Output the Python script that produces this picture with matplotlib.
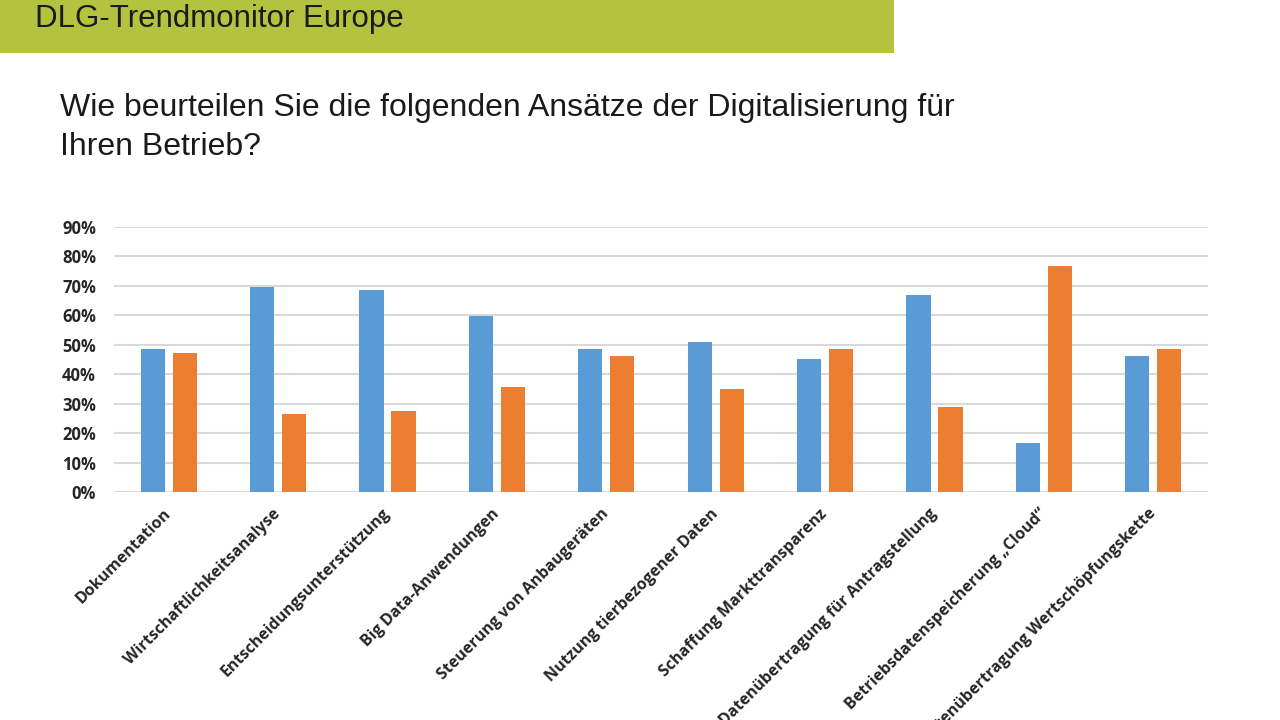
import matplotlib
matplotlib.use("Agg")
import matplotlib.pyplot as plt
import numpy as np
from matplotlib.ticker import FuncFormatter, MultipleLocator
from matplotlib.patches import Rectangle

categories = [
    "Dokumentation",
    "Wirtschaftlichkeitsanalyse",
    "Entscheidungsunterstützung",
    "Big Data-Anwendungen",
    "Steuerung von Anbaugeräten",
    "Nutzung tierbezogener Daten",
    "Schaffung Markttransparenz",
    "Datenübertragung für Antragstellung",
    "Betriebsdatenspeicherung „Cloud“",
    "Datenübertragung Wertschöpfungskette",
]
series_blue = [48.4, 69.6, 68.5, 59.9, 48.4, 50.9, 45.3, 67.0, 16.6, 46.1]
series_orange = [47.2, 26.6, 27.5, 35.7, 46.1, 35.0, 48.4, 28.9, 76.8, 48.4]

header_text = "DLG-Trendmonitor Europe"
question_line1 = "Wie beurteilen Sie die folgenden Ansätze der Digitalisierung für"
question_line2 = "Ihren Betrieb?"

BLUE = "#5b9bd5"
ORANGE = "#ed7d31"
GREEN = "#b3c23f"

W, H = 1280, 720
fig = plt.figure(figsize=(12.8, 7.2), dpi=100)
fig.patch.set_facecolor("white")

# header band
fig.patches.append(Rectangle((0, 1 - 53 / H), 894 / W, 53 / H, transform=fig.transFigure,
                             facecolor=GREEN, edgecolor="none", zorder=0))
fig.text(35 / W, 1 - 19 / H, header_text, fontsize=22.5, family="Liberation Sans",
         color="#1a1a1a", ha="left", va="center")
fig.text(60 / W, 1 - 108 / H, question_line1,
         fontsize=23, family="Liberation Sans", color="#1a1a1a", ha="left", va="center")
fig.text(60 / W, 1 - 147 / H, question_line2,
         fontsize=23, family="Liberation Sans", color="#1a1a1a", ha="left", va="center")

ax = fig.add_axes([114 / W, 1 - 492 / H, (1208 - 114) / W, (492 - 227) / H])
x = np.arange(len(categories))
bw = 0.22
off = 0.146
ax.bar(x - off, series_blue, width=bw, color=BLUE, zorder=3)
ax.bar(x + off, series_orange, width=bw, color=ORANGE, zorder=3)

ax.set_xlim(-0.5, len(categories) - 0.5)
ax.set_ylim(0, 90)
ax.yaxis.set_major_locator(MultipleLocator(10))
ax.yaxis.set_major_formatter(FuncFormatter(lambda v, p: f"{int(round(v))}%"))
ax.grid(axis="y", color="#d9d9d9", linewidth=1.5, zorder=0)
ax.set_axisbelow(True)
for s in ax.spines.values():
    s.set_visible(False)
ax.tick_params(axis="both", length=0)
ax.tick_params(axis="y", pad=13)
for lbl in ax.get_yticklabels():
    lbl.set_fontfamily("Open Sans")
    lbl.set_fontweight("bold")
    lbl.set_fontsize(12)
    lbl.set_color("#262626")

ax.set_xticks(x)
ax.set_xticklabels(categories, rotation=45, ha="right", va="center",
                   rotation_mode="anchor", fontsize=11.5, fontweight="bold",
                   family="Open Sans", color="#262626")
ax.tick_params(axis="x", pad=14)

fig.savefig("out.png", dpi=100, facecolor="white")
